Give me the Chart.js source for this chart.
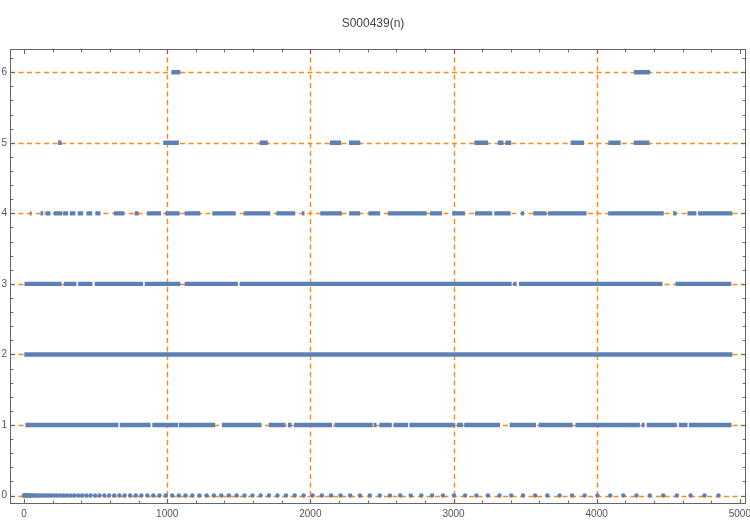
<!DOCTYPE html>
<html>
<head>
<meta charset="utf-8">
<script src="https://cdn.jsdelivr.net/npm/chart.js@4.4.1/dist/chart.umd.min.js"></script>
<style>
html,body{margin:0;padding:0;background:#fff;}
#c{display:block;}
</style>
</head>
<body>
<canvas id="c" width="750" height="522"></canvas>
<script>
// ---- data ----
const chartTitle = 'S000439(n)';
const xTickLabels = [0, 1000, 2000, 3000, 4000, 5000];
const yTickLabels = [0, 1, 2, 3, 4, 5, 6];
const xGridValues = [1000, 2000, 3000, 4000];
const yGridValues = [0, 1, 2, 3, 4, 5, 6];

// positions n where a(n) = 0
const zeroN = [0,1,3,6,10,15,21,28,36,45,55,66,78,91,105,120,136,153,171,190,210,231,253,276,300,325,351,378,406,435,465,496,528,561,595,630,666,703,741,780,820,861,903,946,990,1035,1081,1128,1176,1225,1275,1326,1378,1431,1485,1540,1596,1653,1711,1770,1830,1891,1953,2016,2080,2145,2211,2278,2346,2415,2485,2556,2628,2701,2775,2850,2926,3003,3081,3160,3240,3321,3403,3486,3570,3655,3741,3828,3916,4005,4095,4186,4278,4371,4465,4560,4656,4753,4851];

// runs [from n, to n] where the points of each level form a visually solid row
const level1Runs = [[9,659],[669,883],[896,1076],[1082,1335],[1382,1659],[1709,1826],[1843,1869],[1886,2152],[2169,2436],[2442,2462],[2482,2569],[2582,2682],[2692,3009],[3025,3066],[3075,3325],[3392,3576],[3595,3832],[3852,4302],[4315,4335],[4349,4559],[4575,4635],[4645,4942]];
const level2Runs = [[2,4948]];
const level3Runs = [[3,262],[278,366],[378,478],[494,832],[843,1092],[1122,1494],[1506,3406],[3417,3441],[3457,4460],[4550,4941]];
const level4Runs = [[41,52],[115,134],[150,185],[208,266],[273,308],[320,359],[375,413],[436,476],[499,534],[627,701],[773,801],[859,957],[987,1087],[1122,1231],[1315,1478],[1534,1720],[1762,1894],[1941,1959],[2069,2220],[2271,2348],[2406,2487],[2541,2813],[2836,2920],[2990,3080],[3150,3271],[3285,3399],[3471,3492],[3557,3650],[3660,3929],[4080,4469],[4534,4557],[4634,4697],[4708,4948]];
const level5Runs = [[238,262],[973,1082],[1646,1703],[2136,2216],[2269,2349],[3145,3242],[3309,3349],[3362,3403],[3818,3912],[4082,4168],[4259,4369]];
const level6Runs = [[1029,1092],[4260,4373]];

// ---- styles ----
const BLUE = '#5E81B5';
const ORANGE = '#ff8a10';
const FRAME = '#666666';
const TEXT = '#555555';

function runsToData(runs, level) {
  const out = [];
  runs.forEach((r, i) => {
    out.push({x: r[0], y: level});
    out.push({x: r[1], y: level});
    if (i < runs.length - 1) out.push({x: (r[1] + runs[i+1][0]) / 2, y: null});
  });
  return out;
}

const levelRuns = [level1Runs, level2Runs, level3Runs, level4Runs, level5Runs, level6Runs];
const datasets = levelRuns.map((runs, i) => ({
  data: runsToData(runs, i + 1),
  showLine: true,
  spanGaps: false,
  borderColor: BLUE,
  backgroundColor: BLUE,
  borderWidth: 4.4,
  borderCapStyle: 'butt',
  pointRadius: 0,
  pointHoverRadius: 0
}));
datasets.push({
  data: zeroN.map(n => ({x: n, y: 0})),
  showLine: false,
  pointRadius: 2.2,
  pointBorderWidth: 0,
  pointBackgroundColor: BLUE,
  pointBorderColor: BLUE
});

const framePlugin = {
  id: 'frame',
  beforeDatasetsDraw(chart) {
    const {ctx, chartArea: a, scales: {x, y}} = chart;
    ctx.save();
    ctx.strokeStyle = ORANGE;
    ctx.lineWidth = 1.4;
    ctx.setLineDash([5, 3.5]);
    xGridValues.forEach(v => {
      const px = Math.round(x.getPixelForValue(v)) + 0.5;
      ctx.beginPath(); ctx.moveTo(px, a.top); ctx.lineTo(px, a.bottom); ctx.stroke();
    });
    yGridValues.forEach(v => {
      const py = Math.round(y.getPixelForValue(v)) + 0.5;
      ctx.beginPath(); ctx.moveTo(a.left, py); ctx.lineTo(a.right, py); ctx.stroke();
    });
    ctx.restore();
  },
  afterDatasetsDraw(chart) {
    const {ctx, chartArea: a, scales: {x, y}} = chart;
    ctx.save();
    ctx.strokeStyle = FRAME;
    ctx.lineWidth = 1;
    ctx.setLineDash([]);
    const L = Math.round(a.left) + 0.5, R = Math.round(a.right) - 0.5;
    const T = Math.round(a.top) + 0.5, B = Math.round(a.bottom) - 0.5;
    ctx.strokeRect(L, T, R - L, B - T);
    ctx.beginPath();
    for (let v = 0; v <= 5000; v += 200) {
      const px = Math.round(x.getPixelForValue(v)) + 0.5;
      const len = (v % 1000 === 0) ? 4.5 : 2.8;
      ctx.moveTo(px, B); ctx.lineTo(px, B - len);
      ctx.moveTo(px, T); ctx.lineTo(px, T + len);
    }
    for (let k = 0; k <= 31; k++) {
      const v = k / 5;
      const py = Math.round(y.getPixelForValue(v)) + 0.5;
      const len = (k % 5 === 0) ? 4.5 : 2.8;
      ctx.moveTo(L, py); ctx.lineTo(L + len, py);
      ctx.moveTo(R, py); ctx.lineTo(R - len, py);
    }
    ctx.stroke();
    ctx.restore();
  }
};

new Chart(document.getElementById('c'), {
  type: 'scatter',
  data: {datasets},
  options: {
    responsive: false,
    animation: false,
    events: [],
    layout: {padding: {left: 0, right: 4, top: 0, bottom: 0}},
    plugins: {
      legend: {display: false},
      tooltip: {enabled: false},
      title: {
        display: true,
        text: chartTitle,
        color: '#444444',
        font: {family: '"Liberation Sans", Arial, sans-serif', size: 12, weight: 'normal'},
        padding: {top: 16, bottom: 18.6}
      }
    },
    scales: {
      x: {
        type: 'linear',
        min: -98,
        max: 5043,
        grid: {display: false, drawTicks: false},
        border: {display: false},
        afterBuildTicks: s => { s.ticks = xTickLabels.map(v => ({value: v})); },
        afterFit: s => { s.height = 18; s.paddingLeft = 0; s.paddingRight = 0; },
        ticks: {
          color: TEXT, padding: 4, maxRotation: 0, autoSkip: false,
          callback: v => String(v),
          font: {family: '"Liberation Sans", Arial, sans-serif', size: 10}
        }
      },
      y: {
        type: 'linear',
        min: -0.12,
        max: 6.33,
        grid: {display: false, drawTicks: false},
        border: {display: false},
        afterBuildTicks: s => { s.ticks = yTickLabels.map(v => ({value: v})); },
        afterFit: s => { s.width = 10; s.paddingTop = 0; s.paddingBottom = 0; },
        ticks: {
          color: TEXT, padding: 3, autoSkip: false,
          callback: v => String(v),
          font: {family: '"Liberation Sans", Arial, sans-serif', size: 10}
        }
      }
    }
  },
  plugins: [framePlugin]
});
</script>
</body>
</html>
